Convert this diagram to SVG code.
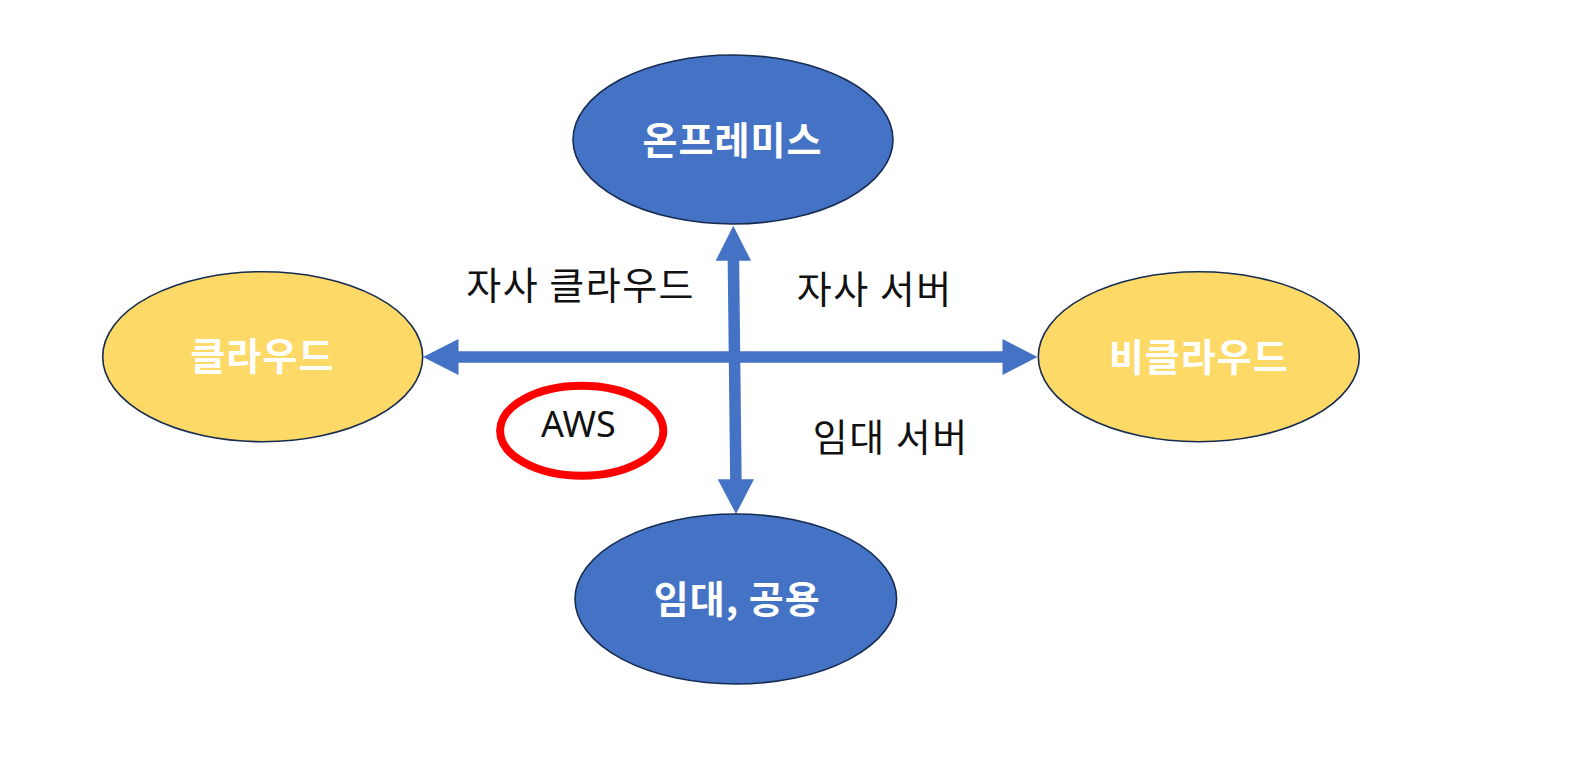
<svg xmlns="http://www.w3.org/2000/svg" width="1587" height="773" viewBox="0 0 1587 773">
<style>
.node{stroke:#172C51;stroke-width:1.6}
.blue{fill:#4472C4}
.yellow{fill:#FDD967}
.ntext{font-family:"Noto Sans CJK KR","Noto Sans",sans-serif;font-weight:bold;font-size:38px;letter-spacing:1px;fill:#FFFFFF;text-anchor:middle}
.label{font-family:"Noto Sans CJK KR","Noto Sans",sans-serif;font-size:38px;letter-spacing:1.5px;fill:#111111;text-anchor:middle}
.shaft{stroke:#4472C4;stroke-width:11.5;fill:none}
.head{fill:#4472C4}
</style>
<rect width="1587" height="773" fill="#FFFFFF"/>
<g id="connectors">
<line class="shaft" x1="457" y1="357" x2="1004" y2="357"/>
<polygon class="head" points="423,357 458.5,339 458.5,375"/>
<polygon class="head" points="1037.5,357 1002.5,339 1002.5,375"/>
<line class="shaft" x1="733.4" y1="259" x2="735.9" y2="481"/>
<polygon class="head" points="733.3,225.7 715.7,260.7 751,260.7"/>
<polygon class="head" points="736,514 717.7,479.3 754,479.3"/>
</g>
<g id="node-onpremise">
<ellipse class="node blue" cx="733" cy="139.5" rx="160" ry="84.5"/>
<text class="ntext" x="732.5" y="154">온프레미스</text>
</g>
<g id="node-cloud">
<ellipse class="node yellow" cx="262.7" cy="356.7" rx="160" ry="85"/>
<text class="ntext" x="262.2" y="370">클라우드</text>
</g>
<g id="node-noncloud">
<ellipse class="node yellow" cx="1198.8" cy="356.7" rx="160.5" ry="85"/>
<text class="ntext" x="1198.8" y="370.5">비클라우드</text>
</g>
<g id="node-rental">
<ellipse class="node blue" cx="735.8" cy="599" rx="160.8" ry="85"/>
<text class="ntext" x="737.2" y="612.5">임대, 공용</text>
</g>
<g id="label-private-cloud">
<text class="label" x="580.7" y="299">자사 클라우드</text>
</g>
<g id="label-private-server">
<text class="label" x="874.7" y="302.5">자사 서버</text>
</g>
<g id="label-rental-server">
<text class="label" x="890.7" y="450.5">임대 서버</text>
</g>
<g id="node-aws">
<ellipse cx="581.7" cy="430.8" rx="81.6" ry="45" fill="#FFFFFF" stroke="#FF0000" stroke-width="8"/>
<text x="578.3" y="437" font-family="'Noto Sans',sans-serif" font-size="36" fill="#111111" text-anchor="middle">AWS</text>
</g>
</svg>
